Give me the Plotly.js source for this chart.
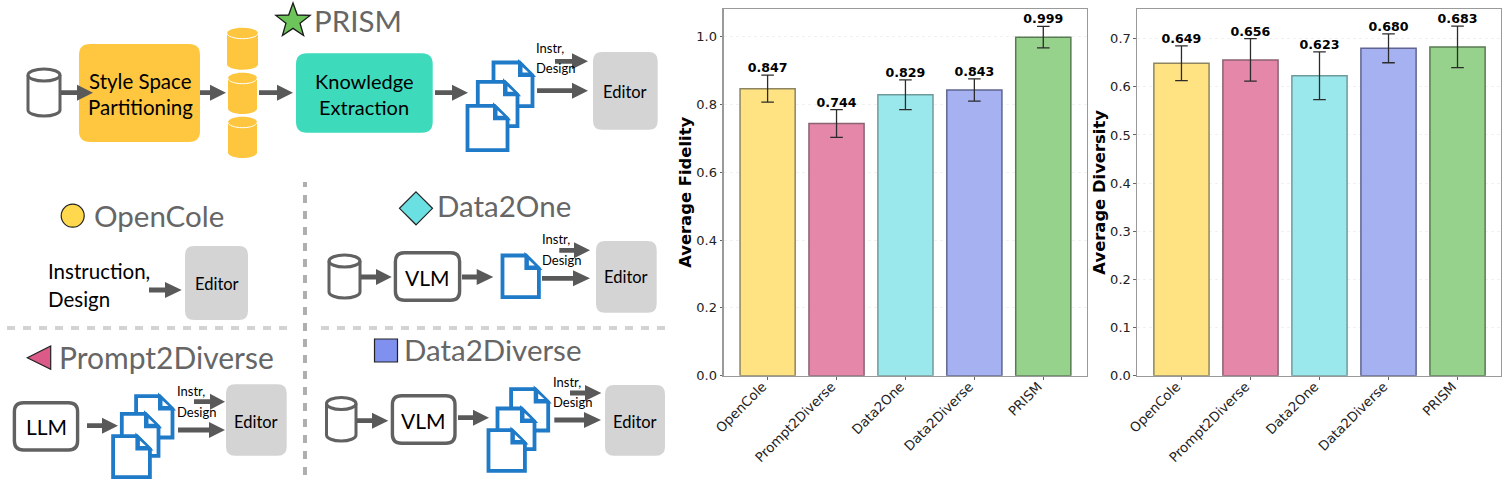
<!DOCTYPE html>
<html>
<head>
<meta charset="utf-8">
<script src="https://cdn.plot.ly/plotly-3.0.1.min.js"></script>
<style>html,body{margin:0;padding:0;background:#fff}#chart{width:1509px;height:486px}</style>
</head>
<body>
<div id="chart"></div>
<script>
// ---------- chart data ----------
const categories = ['OpenCole', 'Prompt2Diverse', 'Data2One', 'Data2Diverse', 'PRISM'];
const fidelity = [0.847, 0.744, 0.829, 0.843, 0.999];
const fidelityErr = [0.040, 0.041, 0.044, 0.033, 0.032];
const diversity = [0.649, 0.656, 0.623, 0.680, 0.683];
const diversityErr = [0.036, 0.044, 0.0495, 0.030, 0.043];
const barColors = ['#FFE382', '#E587A9', '#9BE8EC', '#A6B1F2', '#96D28B'];
const barEdges = ['#8d8560', '#8a6272', '#6f9a9d', '#5f6590', '#587a52'];
const W = 1509, H = 486;

// ---------- diagram helpers (pixel -> paper) ----------
const shapes = [], annotations = [];
const fx = x => x / W, fy = y => 1 - y / H;
function path(d, fill, stroke, sw) {
  let i = 0;
  const conv = d.replace(/-?\d+(\.\d+)?/g, m => (i++ % 2 === 0 ? fx(+m) : fy(+m)).toFixed(5));
  shapes.push({type: 'path', xref: 'paper', yref: 'paper', layer: 'above', path: conv,
    fillcolor: fill || 'rgba(0,0,0,0)', line: {color: stroke || 'rgba(0,0,0,0)', width: stroke ? (sw || 1) : 0}});
}
function rrect(x0, y0, x1, y1, r, fill, stroke, sw) {
  path(`M${x0 + r},${y0} L${x1 - r},${y0} Q${x1},${y0} ${x1},${y0 + r} L${x1},${y1 - r} Q${x1},${y1} ${x1 - r},${y1} L${x0 + r},${y1} Q${x0},${y1} ${x0},${y1 - r} L${x0},${y0 + r} Q${x0},${y0} ${x0 + r},${y0} Z`, fill, stroke, sw);
}
function text(t, x, y, size, color, anchor, fam) {
  annotations.push({xref: 'paper', yref: 'paper', x: fx(x), y: fy(y), text: t, showarrow: false,
    xanchor: anchor || 'center', yanchor: 'middle', borderpad: 0,
    font: {family: fam || 'Lato, "Noto Sans", sans-serif', size: size, color: color || '#000'}});
}
function arrow(x0, x1, y, hx, hh, t) {
  hh = hh || 8; t = t || 2.4;
  path(`M${x0},${y - t} L${hx},${y - t} L${hx},${y - hh} L${x1},${y} L${hx},${y + hh} L${hx},${y + t} L${x0},${y + t} Z`, '#595959');
}
function cylOutline(x0, y0, x1, y1) {
  const c = (x0 + x1) / 2, a = (x1 - x0) / 2, e = 6, k = 0.55, t = y0 + e, b = y1 - e;
  path(`M${x0},${t} C${x0},${t - k * e} ${c - k * a},${y0} ${c},${y0} C${c + k * a},${y0} ${x1},${t - k * e} ${x1},${t} L${x1},${b} C${x1},${b + k * e} ${c + k * a},${y1} ${c},${y1} C${c - k * a},${y1} ${x0},${b + k * e} ${x0},${b} Z`, '#fff', '#616161', 3);
  path(`M${x0},${t} C${x0},${t + k * e} ${c - k * a},${t + e} ${c},${t + e} C${c + k * a},${t + e} ${x1},${t + k * e} ${x1},${t}`, null, '#616161', 3);
}
function cylFilled(x0, y0, x1, y1) {
  const c = (x0 + x1) / 2, a = (x1 - x0) / 2, e = 5.5, k = 0.55, t = y0 + e, b = y1 - e;
  path(`M${x0},${t} C${x0},${t - k * e} ${c - k * a},${y0} ${c},${y0} C${c + k * a},${y0} ${x1},${t - k * e} ${x1},${t} L${x1},${b} C${x1},${b + k * e} ${c + k * a},${y1} ${c},${y1} C${c - k * a},${y1} ${x0},${b + k * e} ${x0},${b} Z`, '#FDC63E');
  path(`M${x0},${t} C${x0},${t + k * e} ${c - k * a},${t + e} ${c},${t + e} C${c + k * a},${t + e} ${x1},${t + k * e} ${x1},${t}`, null, '#fff', 1);
}
function page(x0, y0, x1, y1) {
  const s = 1.8, c = 13, a = x0 + s, b = x1 - s, t = y0 + s, d = y1 - s, blue = '#1F7AC8';
  path(`M${a},${t} L${b - c},${t} L${b},${t + c} L${b},${d} L${a},${d} Z`, '#fff', blue, 3.8);
  path(`M${b - c},${t} L${b - c},${t + c} L${b},${t + c} Z`, blue, blue, 3);
  path(`M${b - c + 3},${t + 4.5} L${b - c + 3},${t + c - 3} L${b - 4},${t + c - 3} Z`, '#fff');
}
function editor(x0, y0, x1, y1, ty) {
  rrect(x0, y0, x1, y1, 9, '#D4D4D4');
  text('Editor', (x0 + x1) / 2, ty, 16.5);
}
function outlinedBox(x0, y0, x1, y1, label, ty) {
  rrect(x0 + 1.7, y0 + 1.7, x1 - 1.7, y1 - 1.7, 9, '#fff', '#616161', 3.4);
  text(label, (x0 + x1) / 2, ty, 21);
}
function instr(x, y1, y2) {
  text('Instr,', x, y1, 13, '#000', 'left');
  text('Design', x, y2, 13, '#000', 'left');
}
const gray = '#666666', H1 = 29.5;

// Dividers
for (let x = 7; x < 287; x += 16) path(`M${x},328 L${Math.min(x + 8, 287)},328`, null, '#D3D3D3', 4);
for (let x = 321; x < 665; x += 16) path(`M${x},328 L${Math.min(x + 8, 665)},328`, null, '#D3D3D3', 4);
path(`M305,182 L305,187`, null, '#AFAFAF', 4);
for (let y = 195; y < 476; y += 16) path(`M305,${y} L305,${Math.min(y + 8, 476)}`, null, '#AFAFAF', 4);

// PRISM
let star = '';
for (let i = 0; i < 10; i++) {
  const r = i % 2 === 0 ? 18 : 7.4, an = -Math.PI / 2 + i * Math.PI / 5;
  star += (i ? 'L' : 'M') + (293 + r * Math.cos(an)).toFixed(2) + ',' + (21 + r * Math.sin(an)).toFixed(2) + ' ';
}
path(star + 'Z', '#6CC45A', '#1a1a1a', 1.3);
text('PRISM', 313, 20, H1, gray, 'left');
cylOutline(28, 69, 60, 116);
rrect(79, 44, 200, 142, 11, '#FFC740');
arrow(61, 93, 92.7, 77);
text('Style Space', 140, 81, 20.5);
text('Partitioning', 140, 107, 20.5);
arrow(200, 226, 92.7, 210);
cylFilled(227, 27.7, 258, 69.7);
cylFilled(228, 72.7, 257, 114);
cylFilled(228, 116.7, 257, 158);
arrow(259, 293, 92.7, 277);
rrect(296, 53.3, 432.7, 132.7, 11, '#3DDBBC');
text('Knowledge', 364, 81, 20);
text('Extraction', 364, 107, 20);
arrow(435, 468, 92.7, 452);
page(491.7, 60.7, 534.3, 108);
page(476, 80, 519.3, 128);
page(465.7, 104, 509.3, 152);
arrow(555, 588, 61.3, 572);
arrow(537, 588, 90.7, 572);
instr(535, 48, 68);
editor(593, 52, 657.7, 129.7, 91.7);

// OpenCole
path('M61.2,215.7 C61.2,209.4 66.3,204.2 72.7,204.2 C79.1,204.2 84.2,209.4 84.2,215.7 C84.2,222 79.1,227.2 72.7,227.2 C66.3,227.2 61.2,222 61.2,215.7 Z', '#FFD84D', '#222', 1.2);
text('OpenCole', 93, 215, H1, gray, 'left');
text('Instruction,', 47, 271, 20.5, '#000', 'left');
text('Design', 47, 299, 20.5, '#000', 'left');
arrow(149, 181.7, 290, 165);
editor(185, 246, 248, 320, 284);

// Prompt2Diverse
path('M27.3,357.7 L50.7,346 L50.7,369.3 Z', '#DB5A87', '#222', 1.2);
text('Prompt2Diverse', 58, 356.7, 30, gray, 'left');
outlinedBox(12.7, 401, 79.3, 451.7, 'LLM', 426.7);
arrow(87, 118, 425.7, 102);
page(134.3, 394.3, 174.3, 439.3);
page(120, 412, 160.3, 457.7);
page(111.3, 434.3, 151.7, 479);
arrow(194, 225, 401.7, 210);
arrow(178, 225, 430, 209);
instr(176, 391, 411.7);
editor(226, 384.3, 286.7, 455.7, 421.7);

// Data2One
path('M416,191.8 L432.5,208.3 L416,224.8 L399.5,208.3 Z', '#6BE0E3', '#222', 1.2);
text('Data2One', 436, 206, H1, gray, 'left');
cylOutline(329, 255, 360, 298);
arrow(361, 391.7, 277, 376);
outlinedBox(393.7, 251, 461.3, 302, 'VLM', 277.3);
arrow(462, 493.3, 277, 476.7);
page(500.7, 253.7, 540.7, 299);
arrow(559.3, 590, 250.3, 574);
arrow(542, 590, 278.3, 573);
instr(541, 239.3, 260.3);
editor(596, 241, 656.7, 312.7, 277.3);

// Data2Diverse
path('M374.5,339 L397.5,339 L397.5,362 L374.5,362 Z', '#8090EE', '#222', 1.2);
text('Data2Diverse', 403.5, 349, H1, gray, 'left');
cylOutline(326.5, 397.5, 356, 441);
arrow(357, 388.3, 420.7, 372);
outlinedBox(390.7, 394, 456.7, 445, 'VLM', 420);
arrow(458, 489, 417.7, 473);
page(509.3, 387.3, 550, 432.3);
page(495.7, 406.7, 536.3, 451);
page(486.7, 428.3, 526.7, 472.7);
arrow(570, 601.3, 393, 585);
arrow(554.3, 601, 420, 584);
instr(551.5, 381.7, 402.3);
editor(605, 385, 665, 455.7, 421.7);

// ---------- charts ----------
const DV = 'DejaVu Sans, sans-serif';
function barTrace(vals, errs, xa, ya) {
  return {type: 'bar', x: categories, y: vals, xaxis: xa, yaxis: ya, width: 0.8,
    marker: {color: barColors, line: {color: barEdges, width: 1.5}},
    error_y: {type: 'data', array: errs, visible: true, color: '#2b2b2b', thickness: 1.3, width: 6.3},
    hoverinfo: 'skip', showlegend: false};
}
function labelTrace(vals, errs, xa, ya) {
  return {type: 'scatter', mode: 'text', x: categories, y: vals.map((v, i) => v + errs[i]),
    text: vals.map(v => v.toFixed(3)), textposition: 'top center',
    textfont: {family: DV, size: 12.6, color: '#000', weight: 700},
    xaxis: xa, yaxis: ya, cliponaxis: false, hoverinfo: 'skip', showlegend: false};
}
function xAxis(x0, x1, anchor) {
  return {domain: [x0 / W, x1 / W], anchor: anchor, type: 'category', categoryorder: 'array', categoryarray: categories,
    range: [-0.64, 4.63], tickangle: -45, ticks: 'outside', ticklen: 2.5, tickwidth: 1, tickcolor: '#666',
    ticklabelstandoff: -6, ticklabelshift: -5,
    tickfont: {family: DV, size: 13.3, color: '#222'}, showline: true, mirror: true, linecolor: '#9a9a9a', linewidth: 1.4,
    showgrid: false, zeroline: false, fixedrange: true};
}
function yAxis(anchor, top, dt, title, sf) {
  return {domain: [1 - 375.7 / H, 1 - 9 / H], anchor: anchor, range: [0, top], dtick: dt, tick0: 0, tickformat: '.1f',
    ticks: 'outside', ticklen: 2.5, tickwidth: 1, tickcolor: '#666',
    tickfont: {family: DV, size: 13, color: '#222'},
    showline: true, mirror: true, linecolor: '#9a9a9a', linewidth: 1.4,
    showgrid: true, gridcolor: '#f1f1f1', griddash: 'dot', gridwidth: 1, zeroline: false, fixedrange: true,
    title: {text: title, font: {family: DV, size: 16.4, color: '#000', weight: 700}, standoff: sf}};
}
const data = [
  barTrace(fidelity, fidelityErr, 'x', 'y'), labelTrace(fidelity, fidelityErr, 'x', 'y'),
  barTrace(diversity, diversityErr, 'x2', 'y2'), labelTrace(diversity, diversityErr, 'x2', 'y2')
];
const layout = {
  width: W, height: H, margin: {l: 0, r: 0, t: 0, b: 0, pad: 0}, paper_bgcolor: '#fff', plot_bgcolor: '#fff',
  showlegend: false, bargap: 0.2,
  xaxis: xAxis(723.5, 1086.7, 'y'), yaxis: yAxis('x', 1.082, 0.2, 'Average Fidelity', 0),
  xaxis2: xAxis(1137.3, 1501, 'y2'), yaxis2: yAxis('x2', 0.7617, 0.1, 'Average Diversity', 0),
  shapes: shapes, annotations: annotations
};
Plotly.newPlot('chart', data, layout, {staticPlot: true, displayModeBar: false});
</script>
</body>
</html>
